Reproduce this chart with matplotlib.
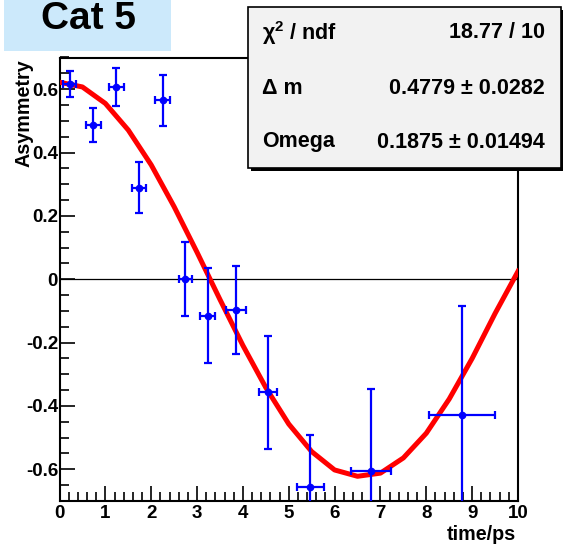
import matplotlib
matplotlib.use('Agg')
import matplotlib.pyplot as plt
from matplotlib.patches import Rectangle
from matplotlib.ticker import MultipleLocator

plt.rcParams['font.family'] = ['Liberation Sans', 'DejaVu Sans']
plt.rcParams['font.weight'] = 'bold'

# measured asymmetry per time bin
time_ps = [0.22, 0.74, 1.24, 1.74, 2.25, 2.74, 3.23, 3.85, 4.55, 5.47, 6.80, 8.77]
time_err = [0.15, 0.17, 0.16, 0.15, 0.16, 0.14, 0.16, 0.21, 0.20, 0.30, 0.44, 0.72]
asym = [0.616, 0.487, 0.606, 0.289, 0.565, 0.0, -0.115, -0.097, -0.357, -0.655, -0.604, -0.428]
asym_err = [0.04, 0.055, 0.06, 0.08, 0.08, 0.117, 0.15, 0.138, 0.179, 0.163, 0.259, 0.345]

# fitted curve, 0.5 ps steps
fit_t = [0.0, 0.5, 1.0, 1.5, 2.0, 2.5, 3.0, 3.5, 4.0, 4.5, 5.0,
         5.5, 6.0, 6.5, 7.0, 7.5, 8.0, 8.5, 9.0, 9.5, 10.0]
fit_a = [0.622, 0.607, 0.555, 0.471, 0.361, 0.229, 0.085, -0.064, -0.209, -0.342, -0.457,
         -0.544, -0.602, -0.622, -0.612, -0.564, -0.486, -0.378, -0.250, -0.108, 0.025]

title = 'Cat 5'
stat_names = [r'$\mathregular{\chi^{2}}$ / ndf', '\u0394 m', 'Omega']
stat_values = ['18.77 / 10', '0.4779 \u00b1 0.0282', '0.1875 \u00b1 0.01494']

W, H = 563, 546
fig = plt.figure(figsize=(W / 100, H / 100), dpi=100)

def fx(px):
    return px / W

def fy(py):
    return 1 - py / H

ax = fig.add_axes([fx(59.5), fy(501), fx(518) - fx(59.5), fy(57.5) - fy(501)])
ax.set_xlim(0, 10)
ax.set_ylim(-0.7, 0.7)

ax.axhline(0, color='black', lw=0.9, zorder=1)
ax.plot(fit_t, fit_a, color='red', lw=3.6, zorder=3)
ax.errorbar(time_ps, asym, xerr=time_err, yerr=asym_err, fmt='o', color='blue',
            ms=4.5, elinewidth=1.6, capsize=3.2, capthick=1.6, zorder=4)

for s in ax.spines.values():
    s.set_linewidth(1.5)
ax.xaxis.set_major_locator(MultipleLocator(1))
ax.xaxis.set_minor_locator(MultipleLocator(0.2))
ax.yaxis.set_minor_locator(MultipleLocator(0.05))
ax.tick_params(which='both', direction='in', top=False, right=False, width=1.2)
ax.tick_params(which='major', length=10.5, labelsize=13.5, pad=3)
ax.tick_params(which='minor', length=6.5)
ax.set_yticks([-0.6, -0.4, -0.2, 0, 0.2, 0.4, 0.6])
ax.set_yticklabels(['-0.6', '-0.4', '-0.2', '0', '0.2', '0.4', '0.6'])
for lab in ax.get_xticklabels() + ax.get_yticklabels():
    lab.set_fontweight('bold')
ax.tick_params(axis='y', pad=1)

fig.text(fx(516), fy(535), 'time/ps', ha='right', va='center', fontsize=14.2, fontweight='bold')
fig.text(fx(24), fy(59), 'Asymmetry', ha='center', va='top', rotation=90,
         fontsize=14.2, fontweight='bold')

# title box
fig.patches.append(Rectangle((fx(4), fy(51)), fx(171) - fx(4), fy(0) - fy(51),
                             transform=fig.transFigure, facecolor='#cce9fb',
                             edgecolor='none', zorder=5))
fig.text(fx(88), fy(19), title, ha='center', va='center', fontsize=28,
         fontweight='bold', zorder=6)

# stats box with shadow
bx0, by0, bx1, by1 = 248, 7, 561, 168
fig.patches.append(Rectangle((fx(bx0 + 3), fy(by1 + 3)), fx(bx1) - fx(bx0), fy(by0) - fy(by1),
                             transform=fig.transFigure, facecolor='black',
                             edgecolor='none', zorder=5))
fig.patches.append(Rectangle((fx(bx0), fy(by1)), fx(bx1) - fx(bx0), fy(by0) - fy(by1),
                             transform=fig.transFigure, facecolor='#f2f2f2',
                             edgecolor='black', lw=1.2, zorder=5.5))
rows_y = [33, 89, 142]
for name, val, ry in zip(stat_names, stat_values, rows_y):
    fig.text(fx(262), fy(ry), name, ha='left', va='center', fontsize=15.5,
             fontweight='bold', zorder=6)
    fig.text(fx(545), fy(ry), val, ha='right', va='center', fontsize=15.5,
             fontweight='bold', zorder=6)

plt.savefig('out.png', dpi=100)
